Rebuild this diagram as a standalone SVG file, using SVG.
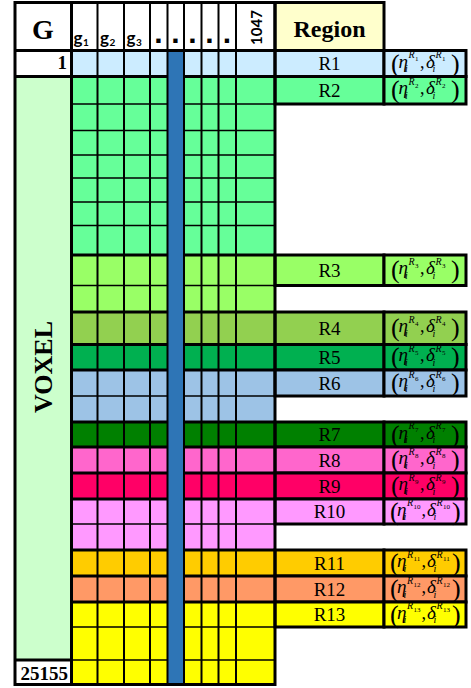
<svg xmlns="http://www.w3.org/2000/svg" width="471" height="688" viewBox="0 0 471 688">
<style>
  .thick{stroke:#000;stroke-width:3;fill:none}
  .thin{stroke:#000;stroke-width:1.5;fill:none}
  .col{stroke:#000;stroke-width:2;fill:none}
  .box{stroke:#000;stroke-width:3}
  .lbl{font-family:"Liberation Serif",serif;font-size:19px;text-anchor:middle;fill:#000}
  .fm{font-family:"Liberation Serif",serif;fill:#000}
  .p{font-size:26px}
  .v{font-size:19px;font-style:italic}
  .c{font-size:18px}
  .s{font-size:10px;font-style:italic}
  .d{font-size:7px}
  .hd{font-family:Lato,"Liberation Sans",sans-serif;font-weight:bold;fill:#000}
  .bs{font-family:"Liberation Serif",serif;font-weight:bold;fill:#000}
</style>

<!-- header row -->
<g id="header">
  <rect x="15" y="2.5" width="260" height="48" fill="#fff"/>
  <rect class="box" x="275" y="2.5" width="109" height="48" fill="#FFFFCC"/>
  <text class="bs" x="43" y="39" font-size="28" text-anchor="middle">G</text>
  <text class="hd" font-size="17"><tspan x="73.5" y="43.5">g</tspan><tspan x="83" y="45.5" font-size="10">1</tspan></text>
  <text class="hd" font-size="17"><tspan x="100" y="43.5">g</tspan><tspan x="109.5" y="45.5" font-size="10">2</tspan></text>
  <text class="hd" font-size="17"><tspan x="126.5" y="43.5">g</tspan><tspan x="136" y="45.5" font-size="10">3</tspan></text>
  <g font-family="'Liberation Sans',sans-serif" font-weight="bold" font-size="30" text-anchor="middle">
    <text x="158.5" y="43">.</text>
    <text x="175.5" y="43">.</text>
    <text x="192.5" y="43">.</text>
    <text x="209.5" y="43">.</text>
    <text x="227" y="43">.</text>
  </g>
  <text class="hd" font-size="15" text-anchor="middle" transform="translate(261.5 27.5) rotate(-90)">1047</text>
  <text class="bs" x="329.5" y="36.5" font-size="24" text-anchor="middle">Region</text>
</g>

<!-- voxel index column -->
<g id="voxel-column">
  <rect x="15" y="50.5" width="56.5" height="26" fill="#fff"/>
  <rect x="15" y="76.5" width="56.5" height="583.5" fill="#CCFFCC"/>
  <rect x="15" y="660" width="56.5" height="24.5" fill="#fff"/>
  <text class="bs" x="67" y="69" font-size="19" text-anchor="end">1</text>
  <text class="bs" font-size="26" text-anchor="middle" transform="translate(51.5 367) rotate(-90)">VOXEL</text>
  <text class="bs" x="68" y="680" font-size="19" text-anchor="end">25155</text>
  <path class="thick" d="M15 50.5H71.5M15 76.5H71.5M15 660H71.5"/>
</g>

<!-- region rows: voxel cells, region name and parameters -->
<g id="R1">
  <rect x="71.5" y="50.5" width="203.5" height="26" fill="#CCECFF"/>
  <rect class="box" x="275" y="50.5" width="109" height="26" fill="#CCECFF"/>
  <rect class="box" x="384" y="50.5" width="82" height="26" fill="#CCECFF"/>
  <text class="lbl" x="329.5" y="70">R1</text>
  <text class="fm"><tspan class="p" x="391" y="71.5">(</tspan><tspan class="v" x="398.5" y="67.5">η</tspan><tspan class="s" x="405" y="72">i</tspan><tspan class="s" x="408.5" y="58">R</tspan><tspan class="d" x="415" y="61">1</tspan><tspan class="c" x="420" y="67.5">,</tspan><tspan class="v" x="426" y="67.5">δ</tspan><tspan class="s" x="432.5" y="72">i</tspan><tspan class="s" x="435.5" y="58">R</tspan><tspan class="d" x="442" y="61">1</tspan><tspan class="p" x="451" y="71.5">)</tspan></text>
</g>

<g id="R2">
  <rect x="71.5" y="76.5" width="203.5" height="178.5" fill="#66FF99"/>
  <path class="thin" d="M71.5 104H275M71.5 130.5H275M71.5 155H275M71.5 178H275M71.5 202H275M71.5 225.5H275"/>
  <rect class="box" x="275" y="76.5" width="109" height="27.5" fill="#66FF99"/>
  <rect class="box" x="384" y="76.5" width="82" height="27.5" fill="#66FF99"/>
  <text class="lbl" x="329.5" y="96.75">R2</text>
  <text class="fm"><tspan class="p" x="391" y="98.25">(</tspan><tspan class="v" x="398.5" y="94.25">η</tspan><tspan class="s" x="405" y="98.75">i</tspan><tspan class="s" x="408.5" y="84.75">R</tspan><tspan class="d" x="415" y="87.75">2</tspan><tspan class="c" x="420" y="94.25">,</tspan><tspan class="v" x="426" y="94.25">δ</tspan><tspan class="s" x="432.5" y="98.75">i</tspan><tspan class="s" x="435.5" y="84.75">R</tspan><tspan class="d" x="442" y="87.75">2</tspan><tspan class="p" x="451" y="98.25">)</tspan></text>
</g>

<g id="R3">
  <rect x="71.5" y="255" width="203.5" height="57" fill="#99FF66"/>
  <path class="thin" d="M71.5 285.5H275"/>
  <rect class="box" x="275" y="255" width="109" height="30.5" fill="#99FF66"/>
  <rect class="box" x="384" y="255" width="82" height="30.5" fill="#99FF66"/>
  <text class="lbl" x="329.5" y="276.75">R3</text>
  <text class="fm"><tspan class="p" x="391" y="278.25">(</tspan><tspan class="v" x="398.5" y="274.25">η</tspan><tspan class="s" x="405" y="278.75">i</tspan><tspan class="s" x="408.5" y="264.75">R</tspan><tspan class="d" x="415" y="267.75">3</tspan><tspan class="c" x="420" y="274.25">,</tspan><tspan class="v" x="426" y="274.25">δ</tspan><tspan class="s" x="432.5" y="278.75">i</tspan><tspan class="s" x="435.5" y="264.75">R</tspan><tspan class="d" x="442" y="267.75">3</tspan><tspan class="p" x="451" y="278.25">)</tspan></text>
</g>

<g id="R4">
  <rect x="71.5" y="312" width="203.5" height="32.5" fill="#92D050"/>
  <rect class="box" x="275" y="312" width="109" height="32.5" fill="#92D050"/>
  <rect class="box" x="384" y="312" width="82" height="32.5" fill="#92D050"/>
  <text class="lbl" x="329.5" y="334.75">R4</text>
  <text class="fm"><tspan class="p" x="391" y="336.25">(</tspan><tspan class="v" x="398.5" y="332.25">η</tspan><tspan class="s" x="405" y="336.75">i</tspan><tspan class="s" x="408.5" y="322.75">R</tspan><tspan class="d" x="415" y="325.75">4</tspan><tspan class="c" x="420" y="332.25">,</tspan><tspan class="v" x="426" y="332.25">δ</tspan><tspan class="s" x="432.5" y="336.75">i</tspan><tspan class="s" x="435.5" y="322.75">R</tspan><tspan class="d" x="442" y="325.75">4</tspan><tspan class="p" x="451" y="336.25">)</tspan></text>
</g>

<g id="R5">
  <rect x="71.5" y="344.5" width="203.5" height="25.5" fill="#00B050"/>
  <rect class="box" x="275" y="344.5" width="109" height="25.5" fill="#00B050"/>
  <rect class="box" x="384" y="344.5" width="82" height="25.5" fill="#00B050"/>
  <text class="lbl" x="329.5" y="363.75">R5</text>
  <text class="fm"><tspan class="p" x="391" y="365.25">(</tspan><tspan class="v" x="398.5" y="361.25">η</tspan><tspan class="s" x="405" y="365.75">i</tspan><tspan class="s" x="408.5" y="351.75">R</tspan><tspan class="d" x="415" y="354.75">5</tspan><tspan class="c" x="420" y="361.25">,</tspan><tspan class="v" x="426" y="361.25">δ</tspan><tspan class="s" x="432.5" y="365.75">i</tspan><tspan class="s" x="435.5" y="351.75">R</tspan><tspan class="d" x="442" y="354.75">5</tspan><tspan class="p" x="451" y="365.25">)</tspan></text>
</g>

<g id="R6">
  <rect x="71.5" y="370" width="203.5" height="52" fill="#9DC3E6"/>
  <path class="thin" d="M71.5 396H275"/>
  <rect class="box" x="275" y="370" width="109" height="26" fill="#9DC3E6"/>
  <rect class="box" x="384" y="370" width="82" height="26" fill="#9DC3E6"/>
  <text class="lbl" x="329.5" y="389.5">R6</text>
  <text class="fm"><tspan class="p" x="391" y="391">(</tspan><tspan class="v" x="398.5" y="387">η</tspan><tspan class="s" x="405" y="391.5">i</tspan><tspan class="s" x="408.5" y="377.5">R</tspan><tspan class="d" x="415" y="380.5">6</tspan><tspan class="c" x="420" y="387">,</tspan><tspan class="v" x="426" y="387">δ</tspan><tspan class="s" x="432.5" y="391.5">i</tspan><tspan class="s" x="435.5" y="377.5">R</tspan><tspan class="d" x="442" y="380.5">6</tspan><tspan class="p" x="451" y="391">)</tspan></text>
</g>

<g id="R7">
  <rect x="71.5" y="422" width="203.5" height="25" fill="#008000"/>
  <rect class="box" x="275" y="422" width="109" height="25" fill="#008000"/>
  <rect class="box" x="384" y="422" width="82" height="25" fill="#008000"/>
  <text class="lbl" x="329.5" y="441">R7</text>
  <text class="fm"><tspan class="p" x="391" y="442.5">(</tspan><tspan class="v" x="398.5" y="438.5">η</tspan><tspan class="s" x="405" y="443">i</tspan><tspan class="s" x="408.5" y="429">R</tspan><tspan class="d" x="415" y="432">7</tspan><tspan class="c" x="420" y="438.5">,</tspan><tspan class="v" x="426" y="438.5">δ</tspan><tspan class="s" x="432.5" y="443">i</tspan><tspan class="s" x="435.5" y="429">R</tspan><tspan class="d" x="442" y="432">7</tspan><tspan class="p" x="451" y="442.5">)</tspan></text>
</g>

<g id="R8">
  <rect x="71.5" y="447" width="203.5" height="26" fill="#FF66CC"/>
  <rect class="box" x="275" y="447" width="109" height="26" fill="#FF66CC"/>
  <rect class="box" x="384" y="447" width="82" height="26" fill="#FF66CC"/>
  <text class="lbl" x="329.5" y="466.5">R8</text>
  <text class="fm"><tspan class="p" x="391" y="468">(</tspan><tspan class="v" x="398.5" y="464">η</tspan><tspan class="s" x="405" y="468.5">i</tspan><tspan class="s" x="408.5" y="454.5">R</tspan><tspan class="d" x="415" y="457.5">8</tspan><tspan class="c" x="420" y="464">,</tspan><tspan class="v" x="426" y="464">δ</tspan><tspan class="s" x="432.5" y="468.5">i</tspan><tspan class="s" x="435.5" y="454.5">R</tspan><tspan class="d" x="442" y="457.5">8</tspan><tspan class="p" x="451" y="468">)</tspan></text>
</g>

<g id="R9">
  <rect x="71.5" y="473" width="203.5" height="26" fill="#FF0066"/>
  <rect class="box" x="275" y="473" width="109" height="26" fill="#FF0066"/>
  <rect class="box" x="384" y="473" width="82" height="26" fill="#FF0066"/>
  <text class="lbl" x="329.5" y="492.5">R9</text>
  <text class="fm"><tspan class="p" x="391" y="494">(</tspan><tspan class="v" x="398.5" y="490">η</tspan><tspan class="s" x="405" y="494.5">i</tspan><tspan class="s" x="408.5" y="480.5">R</tspan><tspan class="d" x="415" y="483.5">9</tspan><tspan class="c" x="420" y="490">,</tspan><tspan class="v" x="426" y="490">δ</tspan><tspan class="s" x="432.5" y="494.5">i</tspan><tspan class="s" x="435.5" y="480.5">R</tspan><tspan class="d" x="442" y="483.5">9</tspan><tspan class="p" x="451" y="494">)</tspan></text>
</g>

<g id="R10">
  <rect x="71.5" y="499" width="203.5" height="51" fill="#FF99FF"/>
  <path class="thin" d="M71.5 524H275"/>
  <rect class="box" x="275" y="499" width="109" height="25" fill="#FF99FF"/>
  <rect class="box" x="384" y="499" width="82" height="25" fill="#FF99FF"/>
  <text class="lbl" x="329.5" y="518">R10</text>
  <text class="fm"><tspan class="p" x="390" y="519.5">(</tspan><tspan class="v" x="397" y="515.5">η</tspan><tspan class="s" x="403.5" y="520">i</tspan><tspan class="s" x="407" y="506">R</tspan><tspan class="d" x="413.5" y="509">10</tspan><tspan class="c" x="421.5" y="515.5">,</tspan><tspan class="v" x="427" y="515.5">δ</tspan><tspan class="s" x="433.5" y="520">i</tspan><tspan class="s" x="436.5" y="506">R</tspan><tspan class="d" x="443" y="509">10</tspan><tspan class="p" x="452" y="519.5">)</tspan></text>
</g>

<g id="R11">
  <rect x="71.5" y="550" width="203.5" height="26" fill="#FFCC00"/>
  <rect class="box" x="275" y="550" width="109" height="26" fill="#FFCC00"/>
  <rect class="box" x="384" y="550" width="82" height="26" fill="#FFCC00"/>
  <text class="lbl" x="329.5" y="569.5">R11</text>
  <text class="fm"><tspan class="p" x="390" y="571">(</tspan><tspan class="v" x="397" y="567">η</tspan><tspan class="s" x="403.5" y="571.5">i</tspan><tspan class="s" x="407" y="557.5">R</tspan><tspan class="d" x="413.5" y="560.5">11</tspan><tspan class="c" x="421.5" y="567">,</tspan><tspan class="v" x="427" y="567">δ</tspan><tspan class="s" x="433.5" y="571.5">i</tspan><tspan class="s" x="436.5" y="557.5">R</tspan><tspan class="d" x="443" y="560.5">11</tspan><tspan class="p" x="452" y="571">)</tspan></text>
</g>

<g id="R12">
  <rect x="71.5" y="576" width="203.5" height="26" fill="#FF9966"/>
  <rect class="box" x="275" y="576" width="109" height="26" fill="#FF9966"/>
  <rect class="box" x="384" y="576" width="82" height="26" fill="#FF9966"/>
  <text class="lbl" x="329.5" y="595.5">R12</text>
  <text class="fm"><tspan class="p" x="390" y="597">(</tspan><tspan class="v" x="397" y="593">η</tspan><tspan class="s" x="403.5" y="597.5">i</tspan><tspan class="s" x="407" y="583.5">R</tspan><tspan class="d" x="413.5" y="586.5">12</tspan><tspan class="c" x="421.5" y="593">,</tspan><tspan class="v" x="427" y="593">δ</tspan><tspan class="s" x="433.5" y="597.5">i</tspan><tspan class="s" x="436.5" y="583.5">R</tspan><tspan class="d" x="443" y="586.5">12</tspan><tspan class="p" x="452" y="597">)</tspan></text>
</g>

<g id="R13">
  <rect x="71.5" y="602" width="203.5" height="82.5" fill="#FFFF00"/>
  <path class="thin" d="M71.5 627H275M71.5 660H275"/>
  <rect class="box" x="275" y="602" width="109" height="25" fill="#FFFF00"/>
  <rect class="box" x="384" y="602" width="82" height="25" fill="#FFFF00"/>
  <text class="lbl" x="329.5" y="621">R13</text>
  <text class="fm"><tspan class="p" x="390" y="622.5">(</tspan><tspan class="v" x="397" y="618.5">η</tspan><tspan class="s" x="403.5" y="623">i</tspan><tspan class="s" x="407" y="609">R</tspan><tspan class="d" x="413.5" y="612">13</tspan><tspan class="c" x="421.5" y="618.5">,</tspan><tspan class="v" x="427" y="618.5">δ</tspan><tspan class="s" x="433.5" y="623">i</tspan><tspan class="s" x="436.5" y="609">R</tspan><tspan class="d" x="443" y="612">13</tspan><tspan class="p" x="452" y="622.5">)</tspan></text>
</g>

<!-- grid rules: group boundaries, highlighted gene column, column rules, frame -->
<g id="grid-lines">
  <path class="thick" d="M71.5 50.5H275M71.5 76.5H275M71.5 255H275M71.5 312H275M71.5 344.5H275M71.5 370H275M71.5 422H275M71.5 447H275M71.5 473H275M71.5 499H275M71.5 550H275M71.5 576H275M71.5 602H275"/>
  <rect x="167.5" y="52" width="16.5" height="632.5" fill="#2E75B6"/>
  <path class="col" d="M97.5 2.5V684.5M124 2.5V684.5M150 2.5V684.5M167.5 2.5V684.5M184 2.5V684.5M201.5 2.5V684.5M218.5 2.5V684.5M236 2.5V684.5"/>
  <path class="thick" d="M71.5 2.5V684.5"/>
  <rect class="thick" x="15" y="2.5" width="260" height="682"/>
</g>
</svg>
